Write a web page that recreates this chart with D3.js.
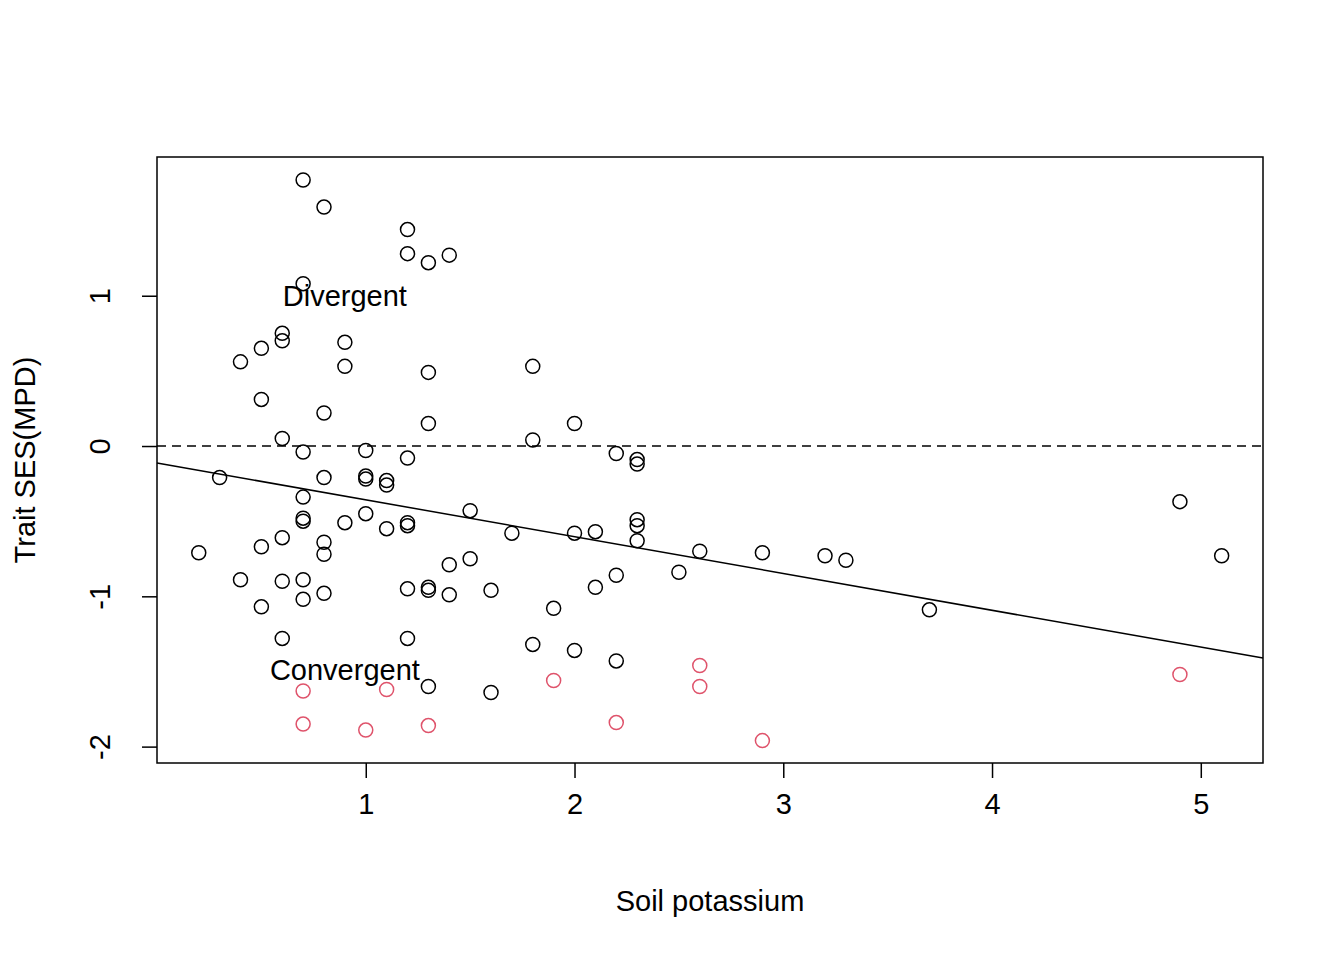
<!DOCTYPE html>
<html><head><meta charset="utf-8">
<script src="https://cdn.jsdelivr.net/npm/d3@7.9.0/dist/d3.min.js"></script>
<style>body{margin:0;background:#fff}text{font-family:"Liberation Sans",Arial,sans-serif}</style>
</head><body><svg id="chart" width="1344" height="960"></svg>
<script>
// black points: [soil potassium, SES]
const blackX = [0.7,0.8,1.2,1.2,1.3,1.4,0.7,0.6,0.6,0.5,0.4,0.9,0.9,1.3,1.8,0.5,0.8,1.3,2.0,0.6,1.8,1.0,0.7,1.2,2.2,2.3,2.3,0.3,0.8,1.0,1.0,1.1,1.1,0.7,1.5,1.0,0.7,0.7,0.9,1.2,1.2,2.3,2.3,1.1,1.7,2.0,2.1,2.3,0.6,0.8,0.5,0.2,0.8,2.6,2.9,3.2,3.3,5.1,4.9,1.5,1.4,2.5,2.2,0.4,0.6,0.7,1.3,1.3,1.2,2.1,1.6,0.8,1.4,0.7,0.5,1.9,3.7,0.6,1.2,1.8,2.0,2.2,1.3,1.6];
const blackY = [1.77,1.59,1.44,1.28,1.22,1.27,1.08,0.75,0.70,0.65,0.56,0.69,0.53,0.49,0.53,0.31,0.22,0.15,0.15,0.05,0.04,-0.03,-0.04,-0.08,-0.05,-0.09,-0.12,-0.21,-0.21,-0.20,-0.22,-0.23,-0.26,-0.34,-0.43,-0.45,-0.48,-0.50,-0.51,-0.51,-0.53,-0.49,-0.53,-0.55,-0.58,-0.58,-0.57,-0.63,-0.61,-0.64,-0.67,-0.71,-0.72,-0.70,-0.71,-0.73,-0.76,-0.73,-0.37,-0.75,-0.79,-0.84,-0.86,-0.89,-0.90,-0.89,-0.94,-0.96,-0.95,-0.94,-0.96,-0.98,-0.99,-1.02,-1.07,-1.08,-1.09,-1.28,-1.28,-1.32,-1.36,-1.43,-1.60,-1.64];
const redX = [2.6,2.6,4.9,1.9,0.7,1.1,2.2,0.7,1.3,1.0,2.9];
const redY = [-1.46,-1.60,-1.52,-1.56,-1.63,-1.62,-1.84,-1.85,-1.86,-1.89,-1.96];
const xTicks = [1,2,3,4,5];
const yTicks = [-2,-1,0,1];
const fit = {intercept: -0.113, slope: -0.245};
const labels = [{text:"Divergent", x:0.9, y:1.0},{text:"Convergent", x:0.9, y:-1.49}];

const svg = d3.select('#chart');
const L=157,R=1263,T=157,B=763;
const x = d3.scaleLinear().domain([0,5.298]).range([L,R]);
const y = d3.scaleLinear().domain([-2.109,1.923]).range([B,T]);
const FS = 29;

svg.append('rect').attr('x',L).attr('y',T).attr('width',R-L).attr('height',B-T)
  .attr('fill','none').attr('stroke','#000').attr('stroke-width',1.5);

const xa = svg.append('g').attr('transform',`translate(0,${B})`)
  .call(d3.axisBottom(x).tickValues(xTicks).tickSize(15).tickPadding(36).tickFormat(d3.format('d')));
const ya = svg.append('g').attr('transform',`translate(${L},0)`)
  .call(d3.axisLeft(y).tickValues(yTicks).tickSize(15).tickFormat(d=>d<0?'-'+(-d):d));
[xa,ya].forEach(a=>{
  a.selectAll('path.domain').remove();
  a.selectAll('line').attr('stroke','#000').attr('stroke-width',1.5);
  a.selectAll('text').attr('font-size',FS).attr('fill','#000').style('font-family','"Liberation Sans",Arial,sans-serif');
});
xa.selectAll('.tick text').attr('dy','0');
ya.selectAll('.tick text').attr('transform','rotate(-90)').attr('x',0).attr('y',-57).attr('dy','0.35em').attr('text-anchor','middle');

// zero reference line
svg.append('line').attr('x1',L).attr('x2',R).attr('y1',y(0)).attr('y2',y(0))
  .attr('stroke','#000').attr('stroke-width',1.5).attr('stroke-dasharray','9,6');
// fitted line
const xd = x.domain();
svg.append('line').attr('x1',x(xd[0])).attr('x2',x(xd[1]))
  .attr('y1',y(fit.intercept+fit.slope*xd[0])).attr('y2',y(fit.intercept+fit.slope*xd[1]))
  .attr('stroke','#000').attr('stroke-width',1.5);

svg.append('g').selectAll('circle').data(d3.zip(blackX,blackY)).join('circle')
  .attr('cx',d=>x(d[0])).attr('cy',d=>y(d[1])).attr('r',7).attr('fill','none').attr('stroke','#000').attr('stroke-width',1.5);
svg.append('g').selectAll('circle').data(d3.zip(redX,redY)).join('circle')
  .attr('cx',d=>x(d[0])).attr('cy',d=>y(d[1])).attr('r',7).attr('fill','none').attr('stroke','#DF536B').attr('stroke-width',1.5);

svg.selectAll('text.lab').data(labels).join('text').attr('class','lab')
  .attr('x',d=>x(d.x)).attr('y',d=>y(d.y)).attr('dy','0.35em').attr('text-anchor','middle')
  .attr('font-size',FS).text(d=>d.text);

svg.append('text').attr('x',(L+R)/2).attr('y',911).attr('text-anchor','middle').attr('font-size',FS).text('Soil potassium');
svg.append('text').attr('transform',`translate(35,${(T+B)/2}) rotate(-90)`).attr('text-anchor','middle')
  .attr('font-size',FS).text('Trait SES(MPD)');
</script></body></html>
